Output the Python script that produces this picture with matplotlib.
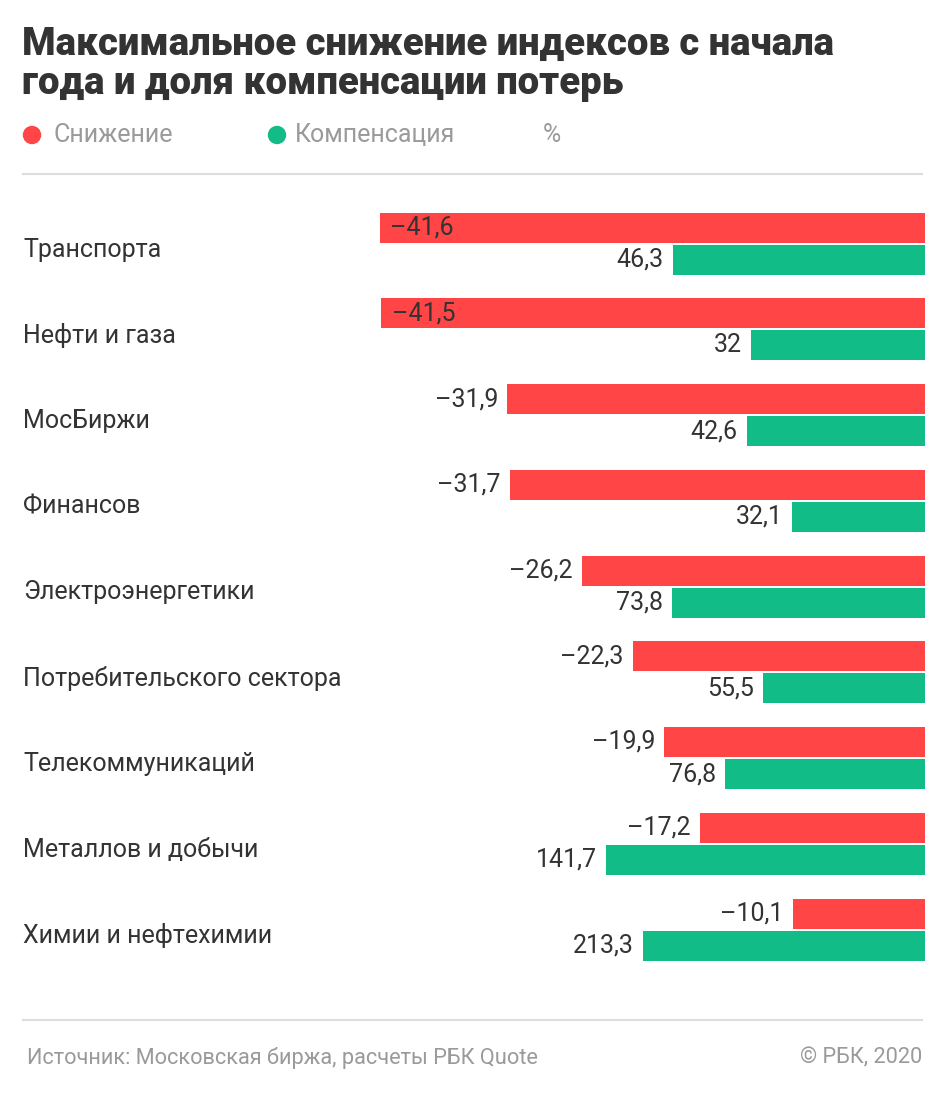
import matplotlib
matplotlib.use("Agg")
import matplotlib.pyplot as plt
from matplotlib.transforms import blended_transform_factory

categories = ["Транспорта", "Нефти и газа", "МосБиржи", "Финансов",
              "Электроэнергетики", "Потребительского сектора",
              "Телекоммуникаций", "Металлов и добычи", "Химии и нефтехимии"]
decline = [-41.6, -41.5, -31.9, -31.7, -26.2, -22.3, -19.9, -17.2, -10.1]
compensation = [46.3, 32, 42.6, 32.1, 73.8, 55.5, 76.8, 141.7, 213.3]

title = "Максимальное снижение индексов с начала\nгода и доля компенсации потерь"
legend_labels = ["Снижение", "Компенсация"]
unit_label = "%"
source = "Источник: Московская биржа, расчеты РБК Quote"
copyright_text = "© РБК, 2020"

RED = "#FF4545"
GREEN = "#12BC87"
DARK = "#333333"
GREY = "#9A9A9A"
LINE = "#DDDDDD"

W, H = 945, 1098
plt.rcParams['font.family'] = ['Roboto', 'DejaVu Sans']

fig = plt.figure(figsize=(W / 100, H / 100), dpi=100)
fig.patch.set_facecolor("white")

def fx(px):
    return px / W

def fy(py):
    return 1 - py / H

# axes: x from 23px to 925px; y rows
ax_left, ax_right = 23, 925
ax_top, ax_bot = 200, 1000
ax = fig.add_axes([fx(ax_left), fy(ax_bot), (ax_right - ax_left) / W, (ax_bot - ax_top) / H])
scale = 13.1  # px per unit
ax.set_xlim(-(ax_right - ax_left) / scale, 0)
row_px = 85.75
first_mid = 243.5
ax.set_ylim((ax_bot - first_mid) / row_px, (ax_top - first_mid) / row_px)
ax.axis("off")

off = 16 / row_px
bh = 30 / row_px
n = len(categories)
rows = list(range(n))
green_len = [-(c / 100.0) * abs(d) for c, d in zip(compensation, decline)]

ax.barh([r - off for r in rows], decline, height=bh, color=RED, edgecolor="none")
ax.barh([r + off for r in rows], green_len, height=bh, color=GREEN, edgecolor="none")

def fmt(v):
    s = ("%.1f" % abs(v)).rstrip("0").rstrip(".") if abs(v) == int(abs(v)) else "%.1f" % abs(v)
    s = s.replace(".", ",")
    return ("\u2013" + s) if v < 0 else s

fs = 18
for r, d, g in zip(rows, decline, green_len):
    if d <= -40:
        ax.annotate(fmt(d), (d, r - off), xytext=(7.5, 0), textcoords="offset points",
                    ha="left", va="center", fontsize=fs, color=DARK)
    else:
        ax.annotate(fmt(d), (d, r - off), xytext=(-6.5, 0), textcoords="offset points",
                    ha="right", va="center", fontsize=fs, color=DARK)
for r, g, c in zip(rows, green_len, compensation):
    ax.annotate(fmt(c), (g, r + off), xytext=(-6.5, 0), textcoords="offset points",
                ha="right", va="center", fontsize=fs, color=DARK)

tr = blended_transform_factory(fig.transFigure, ax.transData)
for r, cat in zip(rows, categories):
    ax.text(fx(23), r + 6 / row_px, cat, transform=tr, ha="left", va="center",
            fontsize=fs, color=DARK)

# title
fig.text(fx(22), fy(26), title, ha="left", va="top", fontsize=27.5, fontweight="black",
         color=DARK, linespacing=1.08)

# legend
legend_pos = [(32, 54, legend_labels[0], RED), (277, 295, legend_labels[1], GREEN)]
for cx, tx, lab, col in legend_pos:
    fig.patches.append(matplotlib.patches.Ellipse((fx(cx), fy(135)), 17 / W, 17 / H,
                                                  transform=fig.transFigure, color=col))
    fig.text(fx(tx), fy(135), lab, ha="left", va="center", fontsize=fs, color=GREY)
fig.text(fx(543), fy(135), unit_label, ha="left", va="center", fontsize=fs, color=GREY)

# separator lines
for y in (174, 1020):
    fig.add_artist(matplotlib.lines.Line2D([fx(23), fx(922)], [fy(y), fy(y)],
                                           color=LINE, lw=1.5, transform=fig.transFigure))

# footer
fig.text(fx(27), fy(1058), source, ha="left", va="center", fontsize=15.7, color=GREY)
fig.text(fx(922), fy(1058), copyright_text, ha="right", va="center", fontsize=15.7, color=GREY)

fig.savefig("out.png", dpi=100, facecolor="white")
